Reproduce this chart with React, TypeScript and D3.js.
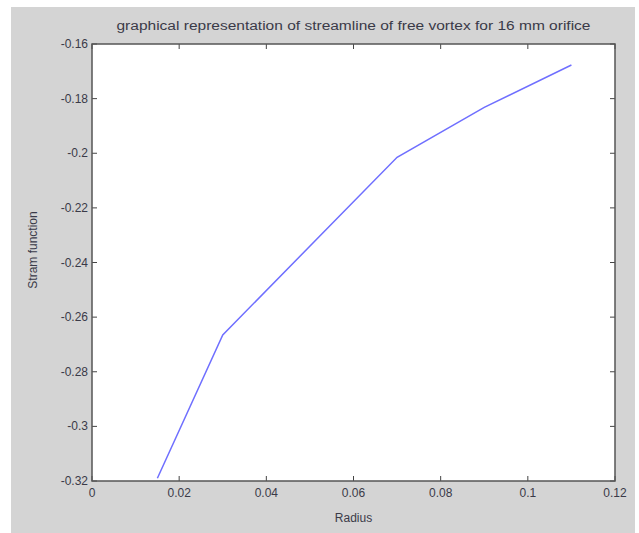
import React from 'react';
import * as d3 from 'd3';

// streamline of free vortex, 16 mm orifice
const radius = [0.015, 0.03, 0.07, 0.09, 0.11];
const streamFn = [-0.319, -0.2665, -0.2015, -0.1832, -0.1677];
const xTicks = [0, 0.02, 0.04, 0.06, 0.08, 0.1, 0.12];
const yTicks = [-0.32, -0.3, -0.28, -0.26, -0.24, -0.22, -0.2, -0.18, -0.16];

const W = 639;
const H = 533;
const left = 92, right = 615, top = 44, bottom = 481;
const txt = '#3a3a48';
const font = '"Liberation Sans", Arial, sans-serif';

export default function App() {
  const x = d3.scaleLinear().domain([0, 0.12]).range([left, right]);
  const y = d3.scaleLinear().domain([-0.32, -0.16]).range([bottom, top]);
  const line = d3.line<number>()
    .x((d, i) => x(radius[i]))
    .y(d => y(d));

  const fmt = (v: number) => String(+v.toFixed(2)).replace(/^(-?)0\./, '$10.');

  return (
    <svg width={W} height={H} style={{ position: 'absolute', left: 0, top: 0, background: '#fff' }}
      fontFamily={font}>
      <rect x={11} y={7} width={624} height={H - 7} fill="#d4d4d4" />
      <rect x={left} y={top} width={right - left} height={bottom - top} fill="#fff" />
      <path d={line(streamFn) || ''} fill="none" stroke="#6f6fff" strokeWidth={1.5} />

      {xTicks.map(t => (
        <g key={'x' + t}>
          <line x1={x(t)} x2={x(t)} y1={bottom} y2={bottom - 5} stroke="#444" />
          <line x1={x(t)} x2={x(t)} y1={top} y2={top + 5} stroke="#444" />
          <text x={x(t)} y={bottom + 16} textAnchor="middle" fontSize={12} fill={txt}>{fmt(t)}</text>
        </g>
      ))}
      {yTicks.map(t => (
        <g key={'y' + t}>
          <line x1={left} x2={left + 5} y1={y(t)} y2={y(t)} stroke="#444" />
          <line x1={right} x2={right - 5} y1={y(t)} y2={y(t)} stroke="#444" />
          <text x={left - 4} y={y(t) + 4} textAnchor="end" fontSize={12} fill={txt}>{fmt(t)}</text>
        </g>
      ))}
      <rect x={left} y={top} width={right - left} height={bottom - top} fill="none" stroke="#555" strokeWidth={1.5} />

      <text x={(left + right) / 2} y={30} textAnchor="middle" fontSize={12} fill={txt}
        textLength={474} lengthAdjust="spacingAndGlyphs">
        graphical representation of streamline of free vortex for 16 mm orifice
      </text>
      <text x={(left + right) / 2} y={522} textAnchor="middle" fontSize={12} fill={txt}>Radius</text>
      <text transform="translate(37,250) rotate(-90)" textAnchor="middle" fontSize={12} fill={txt}>Stram function</text>
    </svg>
  );
}
